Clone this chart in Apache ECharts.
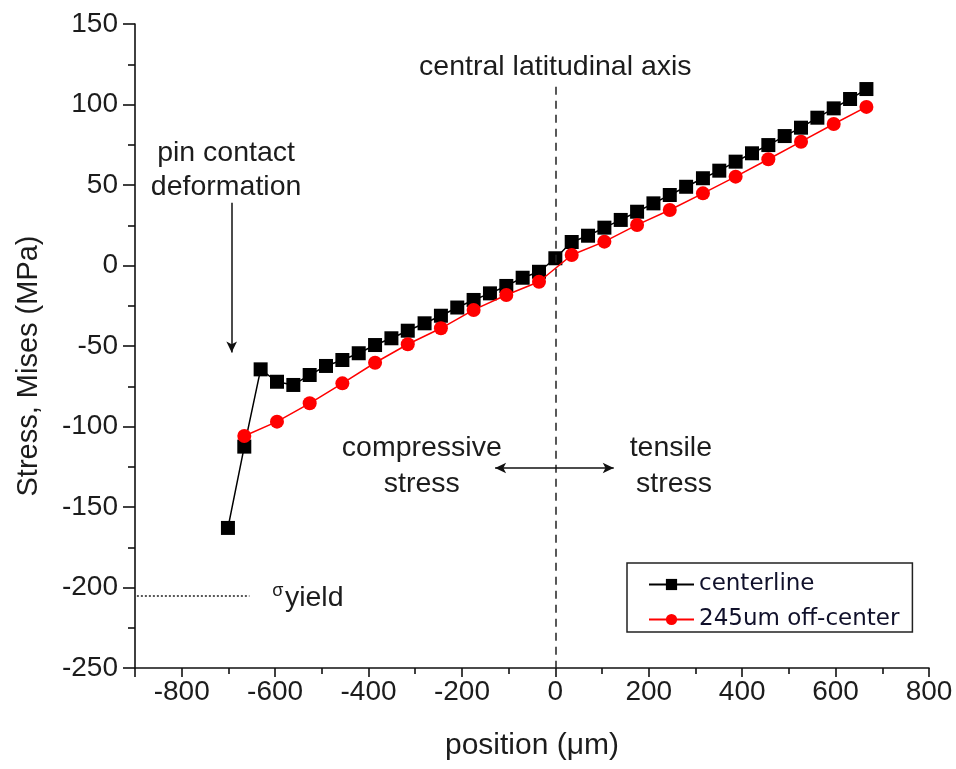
<!DOCTYPE html>
<html>
<head>
<meta charset="utf-8">
<script src="https://cdn.jsdelivr.net/npm/echarts@6/dist/echarts.min.js"></script>
<style>
  html, body { margin: 0; padding: 0; background: #ffffff; }
  #chart { width: 956px; height: 769px; }
</style>
</head>
<body>
<div id="chart"></div>
<script>
// Von Mises stress across the pin section (µm from the central axis)
const centerPos = [-701, -666, -631, -596, -561, -526, -491, -456, -421, -386,
                   -351, -316, -280, -245, -210, -175, -140, -105, -70, -35,
                   0, 35, 70, 105, 140, 175, 210, 245, 280, 316,
                   351, 386, 421, 456, 491, 526, 561, 596, 631, 666];
const centerStress = [-163, -112.5, -64.5, -72.2, -74.2, -68.0, -62.4, -58.7, -54.5, -49.4,
                      -45.2, -40.5, -35.9, -31.2, -26.1, -21.4, -17.3, -12.7, -7.6, -3.9,
                      4.5, 14.6, 18.5, 23.5, 28.3, 33.4, 38.6, 43.8, 48.9, 54.2,
                      58.9, 64.5, 69.7, 74.8, 80.4, 85.6, 91.8, 97.6, 103.4, 109.6];

const offPos = [-666, -596, -526, -456, -386, -316, -245, -175, -105, -35,
                35, 105, 175, 245, 316, 386, 456, 526, 596, 666];
const offStress = [-105.9, -97.0, -85.6, -73.2, -60.4, -48.9, -39.0, -27.6, -18.3, -10.1,
                   6.5, 14.8, 25.2, 34.5, 44.8, 55.2, 66.0, 76.9, 87.9, 98.5];

const seriesNames = ['centerline', '245um off-center'];
const xMajorTicks = [-900, -800, -600, -400, -200, 0, 200, 400, 600, 800];
const xLabelTicks = [-800, -600, -400, -200, 0, 200, 400, 600, 800];
const xMinorTicks = [-700, -500, -300, -100, 100, 300, 500, 700];
const yieldStress = -205;

const FONT = "'Liberation Sans', Arial, sans-serif";
const INK = '#1c1c1c';

function pairs(xs, ys) { return xs.map((x, i) => [x, ys[i]]); }

const axisLineStyle = { color: '#111', width: 1.6 };

const chart = echarts.init(document.getElementById('chart'), null, { renderer: 'canvas' });

chart.setOption({
  animation: false,
  backgroundColor: '#ffffff',
  grid: { left: 135, right: 27, top: 24, bottom: 101, containLabel: false },
  legend: {
    data: seriesNames,
    orient: 'vertical',
    left: 627,
    top: 563,
    padding: [10, 13, 1, 21],
    itemWidth: 45,
    itemHeight: 14,
    itemGap: 12,
    borderColor: '#222',
    borderWidth: 1.5,
    backgroundColor: '#ffffff',
    textStyle: { fontFamily: "'DejaVu Sans', sans-serif", fontSize: 23, color: '#10102a', lineHeight: 23 }
  },
  xAxis: [
    {
      type: 'value',
      min: -900, max: 800, interval: 100,
      axisLine: { show: true, onZero: false, lineStyle: axisLineStyle },
      axisTick: { show: true, length: 9, lineStyle: axisLineStyle, customValues: xMajorTicks },
      axisLabel: {
        margin: 10, color: INK, fontFamily: FONT, fontSize: 28,
        customValues: xLabelTicks
      },
      splitLine: { show: false },
      name: 'position (\u03bcm)',
      nameLocation: 'middle',
      nameGap: 63,
      nameTextStyle: { color: INK, fontFamily: FONT, fontSize: 30 }
    },
    {
      type: 'value',
      position: 'bottom',
      min: -900, max: 800, interval: 100,
      axisLine: { show: false, onZero: false },
      axisTick: { show: true, length: 6, lineStyle: axisLineStyle, customValues: xMinorTicks },
      axisLabel: { show: false },
      splitLine: { show: false }
    }
  ],
  yAxis: {
    type: 'value',
    min: -250, max: 150, interval: 50,
    axisLine: { show: true, onZero: false, lineStyle: axisLineStyle },
    axisTick: { show: true, length: 12, lineStyle: axisLineStyle },
    minorTick: { show: true, splitNumber: 2, length: 7, lineStyle: axisLineStyle },
    axisLabel: { margin: 17, color: INK, fontFamily: FONT, fontSize: 28 },
    splitLine: { show: false },
    name: 'Stress, Mises (MPa)',
    nameLocation: 'middle',
    nameGap: 92,
    nameTextStyle: { color: INK, fontFamily: FONT, fontSize: 29, padding: [0, 40, 0, 0] }
  },
  series: [
    {
      name: seriesNames[0],
      type: 'line',
      data: pairs(centerPos, centerStress),
      symbol: 'rect',
      symbolSize: 14,
      lineStyle: { color: '#000', width: 1.5 },
      itemStyle: { color: '#000' },
      emphasis: { disabled: true },
      z: 3,
      markLine: {
        silent: true,
        animation: false,
        label: { show: false },
        emphasis: { disabled: true },
        data: [
          // central latitudinal axis
          [
            { coord: [0, 111], symbol: 'none', lineStyle: { type: [8, 6], color: '#222', width: 1.5 } },
            { coord: [0, -250], symbol: 'none' }
          ],
          // yield stress level
          [
            { coord: [-896, yieldStress], symbol: 'none', lineStyle: { type: [2, 2], color: '#222', width: 1.5 } },
            { coord: [-655, yieldStress], symbol: 'none' }
          ],
          // pin contact arrow
          [
            { coord: [-693, 39], symbol: 'none', lineStyle: { type: 'solid', color: '#111', width: 1.5 } },
            { coord: [-693, -54], symbol: 'arrow', symbolSize: [8, 11] }
          ],
          // compressive / tensile double arrow
          [
            { coord: [-129, -125.8], symbol: 'arrow', symbolSize: [8, 11], lineStyle: { type: 'solid', color: '#111', width: 1.5 } },
            { coord: [125, -125.8], symbol: 'arrow', symbolSize: [8, 11] }
          ]
        ]
      }
    },
    {
      name: seriesNames[1],
      type: 'line',
      data: pairs(offPos, offStress),
      symbol: 'circle',
      symbolSize: 14,
      lineStyle: { color: '#ff0000', width: 1.5 },
      itemStyle: { color: '#ff0000' },
      emphasis: { disabled: true },
      z: 4
    }
  ]
});

// Text notes placed in data coordinates
const notes = [
  { at: [0, 123.3], text: 'central latitudinal axis' },
  { at: [-705, 59.1], text: 'pin contact\ndeformation', lineHeight: 34 },
  { at: [-286, -124.5], text: 'compressive\nstress', lineHeight: 36 },
  { at: [335.5, -124.5], text: 'tensile\nstress', lineHeight: 36, align: 'right' },
  { at: [-594, -202.1], text: '\u03c3', size: 18 },
  { at: [-579, -206.9], text: 'yield', align: 'left' }
];

chart.setOption({
  graphic: notes.map(n => {
    const p = chart.convertToPixel({ xAxisIndex: 0, yAxisIndex: 0 }, n.at);
    const size = n.size || 28.5;
    return {
      type: 'text',
      silent: true,
      x: p[0],
      y: p[1],
      z: 10,
      style: {
        text: n.text,
        fill: INK,
        font: size + 'px ' + FONT,
        lineHeight: n.lineHeight || size,
        textAlign: n.align || 'center',
        textVerticalAlign: 'middle'
      }
    };
  })
});
</script>
</body>
</html>
